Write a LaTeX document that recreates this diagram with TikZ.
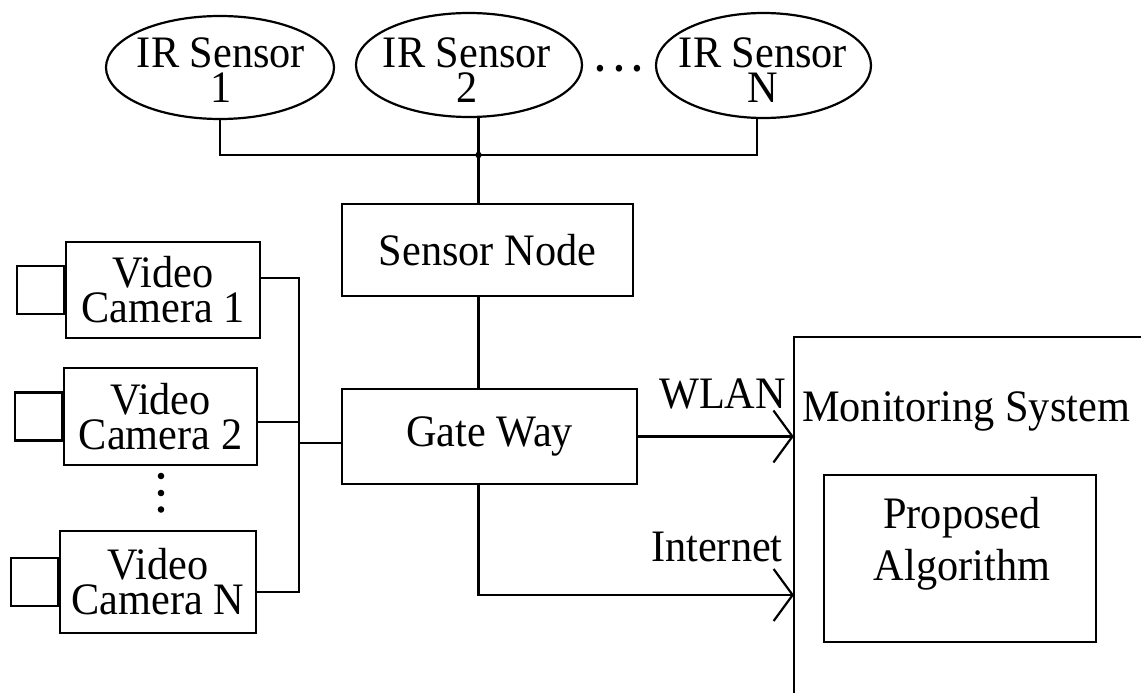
\documentclass[tikz,border=0pt]{standalone}
\usepackage{fontspec}
\setmainfont{Liberation Serif}[FakeStretch=0.94]
\usetikzlibrary{shapes.geometric,arrows.meta}
\begin{document}
\begin{tikzpicture}[x=1pt,y=-1pt,
  every node/.style={font=\fontsize{45}{35}\selectfont, inner sep=0pt},
  line/.style={line width=2.2pt},
  sensor/.style={ellipse, draw, line width=2.2pt},
  box/.style={rectangle, draw, line width=2.2pt, align=center},
  cambox/.style={box, font=\fontsize{45}{35}\selectfont},
  lens/.style={rectangle, draw, line width=2.2pt, minimum width=47pt, minimum height=48pt, anchor=east},
  arr/.style={line width=2.2pt, -{Straight Barb[length=19pt,width=52pt]}},
  lbl/.style={align=center}]
\useasboundingbox (0,0) rectangle (1141,693);

% IR sensors
\node[sensor, minimum width=228pt, minimum height=103pt] (s1) at (220,67.5) {};
\node[sensor, minimum width=226pt, minimum height=104pt] (s2) at (469,65) {};
\node[sensor, minimum width=215pt, minimum height=105pt] (sN) at (763.5,65.5) {};
\node[lbl] (t1) at (221,69.8) {IR Sensor\\1};
\node[lbl] (t2) at (467,69.8) {IR Sensor\\2};
\node[lbl] (tN) at (763,69.8) {IR Sensor\\N};
\node[anchor=base, font=\bfseries\fontsize{42}{35}\selectfont] (hdots) at (619,72) {.\hspace{8.5pt}.\hspace{8.5pt}.};

% sensor node and gateway
\node[box, minimum width=291pt, minimum height=92pt] (sn) at (487.5,250) {Sensor Node};
\node[box, minimum width=295pt, minimum height=95pt] (gw) at (489.5,436.5) {Gate Way};

% cameras
\node[cambox, minimum width=194pt, minimum height=96pt] (cam1) at (163,290) {Video\\Camera 1};
\node[cambox, minimum width=193pt, minimum height=97pt] (cam2) at (160.5,416.5) {Video\\Camera 2};
\node[cambox, minimum width=196pt, minimum height=102pt] (camN) at (158,582) {Video\\Camera N};
\node[lens] (l1) at (cam1.west) {};
\node[lens] (l2) at (cam2.west) {};
\node[lens] (lN) at (camN.west) {};
\fill (161,476) circle (3.3pt) (161,493) circle (3.3pt) (161,509.5) circle (3.3pt);

% monitoring system
\node[minimum width=347pt, minimum height=356pt] (mon) at (967.5,515) {};
\draw[line] (mon.north east) -- (mon.north west) -- (mon.south west);
\node[anchor=base west] (montxt) at (802,421) {Monitoring System};
\node[box, minimum width=272pt, minimum height=167pt] (prop) at (960,558.5) {};
\node[lbl, font=\fontsize{45}{52}\selectfont] (proptxt) at (962,544) {Proposed\\Algorithm};

% labels
\node[anchor=base west] (wlan) at (659,408) {WLAN};
\node[anchor=base west] (inet) at (651,561) {Internet};

% coordinates
\coordinate (j1) at (220,155);
\coordinate (j2) at (478.5,155);
\coordinate (jN) at (757,155);
\coordinate (b1) at (299,278);
\coordinate (b2) at (299,422);
\coordinate (bg) at (299,443);
\coordinate (bN) at (299,592);
\coordinate (ie) at (794,595);

% sensor bus
\draw[line] (s1.south) -- (j1) -- (jN) -- (jN |- sN.south);
\draw[line] (s2.south -| j2) -- (j2);
\fill (j2) circle (3.2pt);
\draw[line] (j2) -- (sn.north -| j2);
\draw[line] (sn.south -| j2) -- (gw.north -| j2);

% camera bus
\draw[line] (cam1.east |- b1) -- (b1) -- (bN) -- (camN.east |- bN);
\draw[line] (cam2.east |- b2) -- (b2);
\draw[line] (bg) -- (gw.west |- bg);

% links to monitoring system
\draw[arr] (gw.east) -- (gw.east -| mon.west);
\draw[arr] (gw.south -| j2) |- (ie);
\end{tikzpicture}
\end{document}
